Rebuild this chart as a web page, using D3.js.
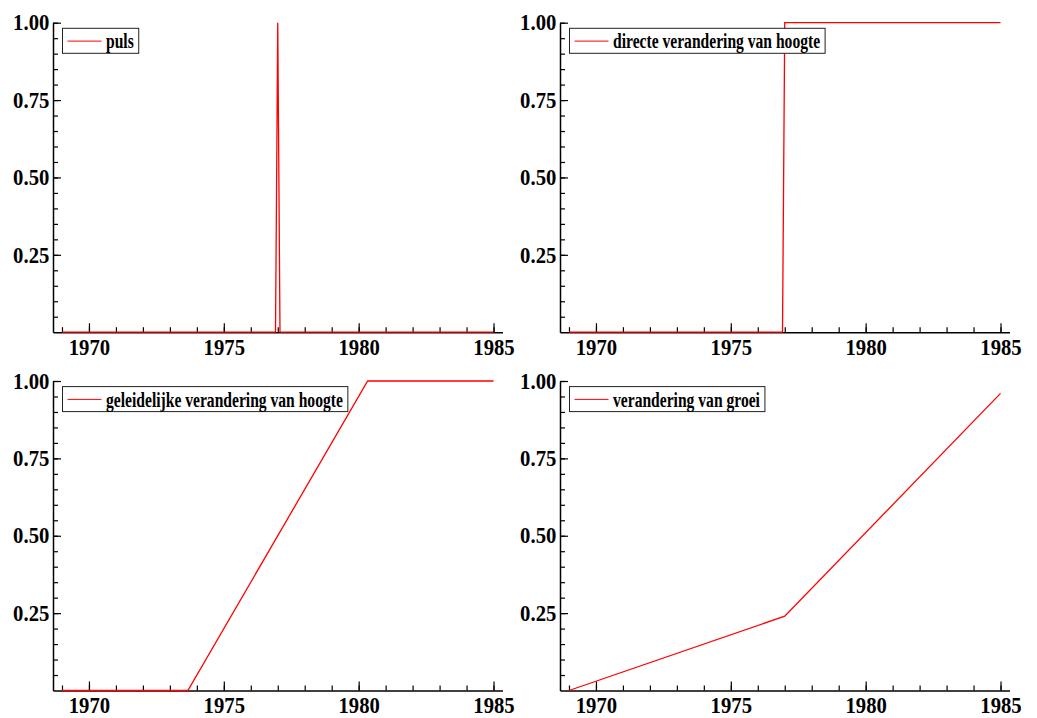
<!DOCTYPE html>
<html>
  <head>
    <meta charset="utf-8">
    <title>Interventie-variabelen</title>
    <script src="https://d3js.org/d3.v7.min.js"></script>
    <style>
      body{
        margin: 0;
        background: #ffffff;
      }
      text{
        font-family: "Liberation Serif", "DejaVu Serif", serif;
        font-weight: bold;
      }
    </style>
  </head>
  <body>
    <div id="container"></div>
    <script>

      // DATA - vertices of each series (monthly data, 1969-1985)
      const pulsYears  = [1969, 1976.917, 1977, 1977.083, 1985];
      const pulsValues = [0, 0, 1, 0, 0];

      const directYears  = [1969, 1976.917, 1977, 1985];
      const directValues = [0, 0, 1, 1];

      const gradualYears  = [1969, 1973.667, 1980.333, 1985];
      const gradualValues = [0, 0, 1, 1];

      const groeiYears  = [1969, 1977, 1985];
      const groeiValues = [0, 0.24, 0.96];

      const seriesNames = ["puls", "directe verandering van hoogte",
                           "geleidelijke verandering van hoogte", "verandering van groei"];

      const xMajorTicks = [1970, 1975, 1980, 1985];
      const yMajorTicks = [0.25, 0.50, 0.75, 1.00];

      // SET DIMENSIONS
      const width = 1037, height = 718;

      const svg = d3.select("#container")
        .append("svg")
        .attr("width", width)
        .attr("height", height);

      // PANEL POSITIONS
      const panels = [
        { left: 53,  top: 22.7, years: pulsYears,    values: pulsValues,    name: seriesNames[0] },
        { left: 560, top: 22.7, years: directYears,  values: directValues,  name: seriesNames[1] },
        { left: 53,  top: 381,  years: gradualYears, values: gradualValues, name: seriesNames[2] },
        { left: 560, top: 381,  years: groeiYears,   values: groeiValues,   name: seriesNames[3] }
      ];
      const pw = 449.5, ph = 309.5;

      const xMinor = d3.range(1969, 1986);
      const yMinor = d3.range(0.05, 1.001, 0.05);

      const tickScale = 0.92, legendScale = 0.78;

      panels.forEach(p => {
        const g = svg.append("g")
          .attr("transform", "translate(" + p.left + "," + p.top + ")");

        const x = d3.scaleLinear()
          .domain([1968.667, 1985.333])
          .range([0, pw]);
        const y = d3.scaleLinear()
          .domain([0, 1])
          .range([ph, 0]);

        // minor ticks
        g.append("g")
          .attr("transform", "translate(0," + ph + ")")
          .call(d3.axisBottom(x).tickValues(xMinor).tickSize(-5).tickSizeOuter(0).tickFormat(""))
          .call(a => a.select(".domain").remove());
        g.append("g")
          .call(d3.axisLeft(y).tickValues(yMinor).tickSize(-5).tickSizeOuter(0).tickFormat(""))
          .call(a => a.select(".domain").remove());

        // X-AXIS
        g.append("g")
          .attr("class", "x-axis")
          .attr("transform", "translate(0," + ph + ")")
          .call(d3.axisBottom(x).tickValues(xMajorTicks).tickSize(-9).tickSizeOuter(0)
            .tickPadding(7).tickFormat(d3.format("d")));

        // Y-AXIS
        g.append("g")
          .attr("class", "y-axis")
          .call(d3.axisLeft(y).tickValues(yMajorTicks).tickSize(-8).tickSizeOuter(0)
            .tickPadding(4).tickFormat(d3.format(".2f")));

        g.selectAll(".tick line").attr("stroke", "#000").attr("stroke-width", 1.2);
        g.selectAll(".domain").attr("stroke", "#000").attr("stroke-width", 1.5);
        g.selectAll(".x-axis text, .y-axis text")
          .attr("fill", "#000")
          .attr("font-size", 22.5)
          .attr("font-family", "Liberation Serif")
          .attr("font-weight", "bold")
          .attr("transform", "scale(" + tickScale + ",1)");

        // LINE
        const pts = p.years.map((yr, i) => [yr, p.values[i]]);
        g.append("path")
          .datum(pts)
          .attr("fill", "none")
          .attr("stroke", "#ff0000")
          .attr("stroke-width", 1.3)
          .attr("d", d3.line().x(d => x(d[0])).y(d => y(d[1])));

        // LEGEND
        const lg = g.append("g").attr("transform", "translate(9.5,5.6)");
        const box = lg.append("rect")
          .attr("height", 25)
          .attr("fill", "#fff")
          .attr("stroke", "#222")
          .attr("stroke-width", 1);
        lg.append("line")
          .attr("x1", 5).attr("x2", 39)
          .attr("y1", 12.8).attr("y2", 12.8)
          .attr("stroke", "#ff0000")
          .attr("stroke-width", 1);
        const t = lg.append("text")
          .attr("transform", "translate(43.5,20) scale(" + legendScale + ",1)")
          .attr("font-size", 20)
          .attr("fill", "#000")
          .text(p.name);
        const tw = t.node().getComputedTextLength() * legendScale;
        box.attr("width", 43.5 + tw + 5);
      });

    </script>
  </body>
</html>
